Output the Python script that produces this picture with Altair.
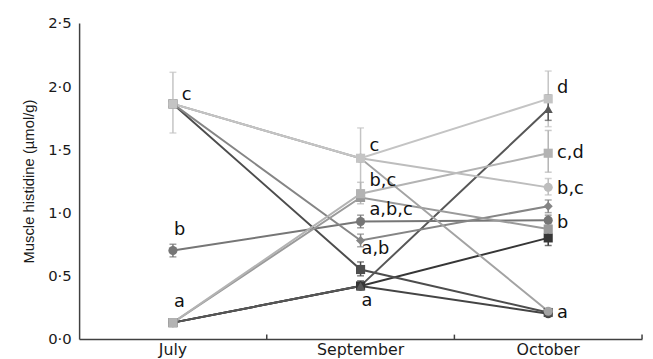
import altair as alt
import pandas as pd

months = ["July", "September", "October"]

# series: name, colour, marker shape
series = ["s1", "s2", "s3", "s4", "s5", "s6", "s7", "s8", "s9", "s10", "s11"]
colors = ["#c4c4c4", "#bdbdbd", "#a3a3a3", "#858585", "#4d4d4d", "#767676",
          "#b3b3b3", "#9a9a9a", "#575757", "#363636", "#444444"]
shapes = ["square", "circle", "circle", "diamond", "square", "circle",
          "square", "square", "triangle-up", "square", "circle"]
# drawing order (higher = on top)
zorder = [11, 9, 10, 6, 3, 5, 8, 7, 4, 2, 1]
jul = [1.86, 1.86, 1.86, 1.86, 1.86, 0.70, 0.13, 0.13, 0.13, 0.13, 0.13]
sep = [1.43, 1.43, 1.43, 0.78, 0.55, 0.93, 1.15, 1.12, 0.42, 0.42, 0.42]
octo = [1.90, 1.20, 0.22, 1.05, 0.21, 0.94, 1.47, 0.87, 1.82, 0.80, 0.20]

# error bars (SEM)
err_series = ["s1", "s1", "s1", "s6", "s6", "s6", "s7", "s7", "s2", "s4", "s4",
              "s5", "s10", "s10", "s9", "s8"]
err_month = ["July", "September", "October", "July", "September", "October",
             "September", "October", "October", "September", "October",
             "September", "September", "October", "October", "October"]
err_lo = [1.63, 1.18, 1.68, 0.65, 0.88, 0.90, 1.07, 1.32, 1.14, 0.73, 1.00,
          0.50, 0.39, 0.74, 1.73, 0.82]
err_hi = [2.11, 1.67, 2.12, 0.75, 0.98, 0.98, 1.24, 1.65, 1.27, 0.83, 1.10,
          0.61, 0.46, 0.86, 1.93, 0.92]

# significance letters (baseline values), right of the points
lab_month = ["July", "September", "September", "September",
             "October", "October", "October", "October", "October"]
lab_value = [1.89, 1.49, 1.21, 0.98, 1.95, 1.43, 1.15, 0.88, 0.17]
lab_text = ["c", "c", "b,c", "a,b,c", "d", "c,d", "b,c", "b", "a"]
# letters placed just above / below the points
lab2_month = ["July", "July", "September", "September"]
lab2_value = [0.82, 0.25, 0.67, 0.26]
lab2_text = ["b", "a", "a,b", "a"]

# x-axis tick marks sit on the band boundaries
tick_month = ["September", "October"]
tick_end_month = ["October"]

rows = []
for i, s in enumerate(series):
    for m, v in zip(months, [jul[i], sep[i], octo[i]]):
        rows.append({"series": s, "month": m, "value": v, "shape": shapes[i], "z": zorder[i]})
df = pd.DataFrame(rows).sort_values(["z"], kind="stable").reset_index(drop=True)
err_df = pd.DataFrame({"series": err_series, "month": err_month, "lo": err_lo, "hi": err_hi})
lab_df = pd.DataFrame({"month": lab_month, "value": lab_value, "text": lab_text})
lab2_df = pd.DataFrame({"month": lab2_month, "value": lab2_value, "text": lab2_text})
tick_df = pd.DataFrame({"month": tick_month})
tick2_df = pd.DataFrame({"month": tick_end_month})

FONT = "DejaVu Sans"
TFONT = "Liberation Sans"

xscale = alt.Scale(type="band", domain=months, paddingInner=0, paddingOuter=0)
xenc = alt.X("month:N", sort=months, bandPosition=0.5, scale=xscale,
             axis=alt.Axis(title=None, labelAngle=0, tickSize=0,
                           labelFontSize=16, labelFont=FONT, labelColor="#1a1a1a",
                           domainColor="#404040", domainWidth=1.5, labelPadding=3))
yscale = alt.Scale(domain=[0, 2.5], nice=False, zero=True)
yaxis = alt.Axis(title="Muscle histidine (µmol/g)", values=[0, 0.5, 1.0, 1.5, 2.0, 2.5],
                 labelExpr="replace(format(datum.value, '.1f'), '.', '·')",
                 labelFontSize=15, labelFont=FONT, labelColor="#1a1a1a",
                 titleFontSize=15, titleFont=TFONT, titleFontWeight="normal",
                 titleColor="#1a1a1a", titlePadding=11, tickSize=0,
                 domainColor="#404040", domainWidth=1.5, grid=False, labelPadding=8)
color = alt.Color("series:N", scale=alt.Scale(domain=series, range=colors), legend=None)

bars = alt.Chart(err_df).mark_rule(strokeWidth=1.5).encode(
    x=xenc, y=alt.Y("lo:Q", scale=yscale, axis=yaxis), y2="hi:Q", color=color)
cap_lo = alt.Chart(err_df).mark_tick(size=7, thickness=1.5).encode(
    x=xenc, y=alt.Y("lo:Q", scale=yscale), color=color)
cap_hi = alt.Chart(err_df).mark_tick(size=7, thickness=1.5).encode(
    x=xenc, y=alt.Y("hi:Q", scale=yscale), color=color)

lines = alt.Chart(df).mark_line(strokeWidth=2).encode(
    x=xenc, y=alt.Y("value:Q", scale=yscale), detail="series:N", color=color)
points = alt.Chart(df).mark_point(filled=True, size=85, opacity=1).encode(
    x=xenc, y=alt.Y("value:Q", scale=yscale), color=color,
    shape=alt.Shape("shape:N", scale=None), order=alt.Order("z:Q"))

labels = alt.Chart(lab_df).mark_text(align="left", baseline="alphabetic", dx=9,
                                     fontSize=18, font=FONT, color="#111").encode(
    x=xenc, y=alt.Y("value:Q", scale=yscale), text="text:N")
labels2 = alt.Chart(lab2_df).mark_text(align="left", baseline="alphabetic", dx=1,
                                       fontSize=18, font=FONT, color="#111").encode(
    x=xenc, y=alt.Y("value:Q", scale=yscale), text="text:N")

ticks = alt.Chart(tick_df).mark_rule(color="#404040", strokeWidth=1.5).encode(
    x=alt.X("month:N", sort=months, bandPosition=0, scale=xscale),
    y=alt.datum(0), y2=alt.datum(0.035))
ticks_end = alt.Chart(tick2_df).mark_rule(color="#404040", strokeWidth=1.5).encode(
    x=alt.X("month:N", sort=months, bandPosition=1, scale=xscale),
    y=alt.datum(0), y2=alt.datum(0.035))

chart = alt.layer(bars, cap_lo, cap_hi, lines, points, labels, labels2,
                  ticks, ticks_end).properties(
    width=570, height=320,
    autosize=alt.AutoSizeParams(type="none"),
    padding={"left": 72, "top": 13, "right": 3, "bottom": 18},
    background="white",
).configure_view(stroke=None)

chart.save("out.html", embed_options={"renderer": "svg", "actions": False})
